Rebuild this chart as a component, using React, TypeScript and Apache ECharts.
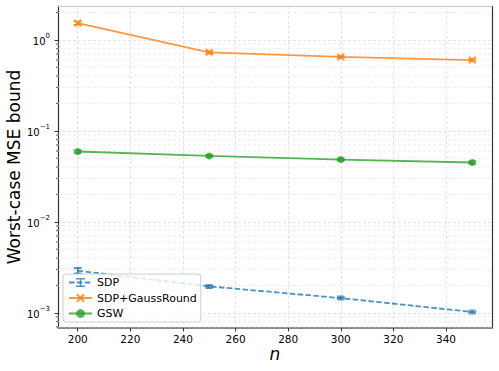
import React, { useEffect, useRef } from "react";
import * as echarts from "echarts";

const nValues = [200, 250, 300, 350];
const sdp = [0.0029, 0.00195, 0.00145, 0.00102];
const sdpErr = [0.00022, 0.00004, 0.00003, 0.00002];
const gauss = [1.53, 0.73, 0.65, 0.6];
const gaussErr = [0.06, 0.02, 0.015, 0.015];
const gsw = [0.0593, 0.053, 0.0484, 0.0449];
const gswErr = [0.002, 0.0015, 0.0015, 0.0015];
const xTicks = [200, 220, 240, 260, 280, 300, 320, 340];
const yTicks = [0.001, 0.01, 0.1, 1];
const yMinor = [
  0.0007, 0.0008, 0.0009,
  0.002, 0.003, 0.004, 0.005, 0.006, 0.007, 0.008, 0.009,
  0.02, 0.03, 0.04, 0.05, 0.06, 0.07, 0.08, 0.09,
  0.2, 0.3, 0.4, 0.5, 0.6, 0.7, 0.8, 0.9,
  2,
];

const FONT = "DejaVu Sans";
const BLUE = "rgba(31,119,180,0.8)";
const ORANGE = "rgba(255,127,14,0.8)";
const GREEN = "rgba(44,160,44,0.8)";

const X_SYMBOL =
  "path://M0,1.6L1.6,0L5,3.4L8.4,0L10,1.6L6.6,5L10,8.4L8.4,10L5,6.6L1.6,10L0,8.4L3.4,5Z";
const I_SYMBOL =
  "path://M0,0L10,0L10,1.6L5.8,1.6L5.8,8.4L10,8.4L10,10L0,10L0,8.4L4.2,8.4L4.2,1.6L0,1.6Z";

function errSeries(vals: number[], errs: number[], color: string) {
  return {
    type: "custom",
    silent: true,
    z: 3,
    data: nValues.map((n, i) => [n, vals[i], errs[i]]),
    encode: { x: 0, y: 1 },
    renderItem: (params: any, api: any) => {
      const x = api.value(0);
      const y = api.value(1);
      const e = api.value(2);
      const p1 = api.coord([x, y + e]);
      const p2 = api.coord([x, y - e]);
      const st = { stroke: color, lineWidth: 1.5 };
      return {
        type: "group",
        children: [
          { type: "line", shape: { x1: p1[0], y1: p1[1], x2: p2[0], y2: p2[1] }, style: st },
          { type: "line", shape: { x1: p1[0] - 4, y1: p1[1], x2: p1[0] + 4, y2: p1[1] }, style: st },
          { type: "line", shape: { x1: p2[0] - 4, y1: p2[1], x2: p2[0] + 4, y2: p2[1] }, style: st },
        ],
      };
    },
  };
}

export default function App() {
  const ref = useRef<HTMLDivElement>(null);
  useEffect(() => {
    if (!ref.current) return;
    const chart = echarts.init(ref.current, undefined, { renderer: "svg" });
    const option: any = {
      animation: false,
      backgroundColor: "#fff",
      textStyle: { fontFamily: FONT },
      grid: { left: 58, right: 7, top: 6, bottom: 43, containLabel: false, outerBoundsMode: "none" },
      legend: {
        left: 63,
        top: 274,
        orient: "vertical",
        selectedMode: false,
        data: ["SDP", "SDP+GaussRound", "GSW"],
        itemWidth: 23,
        itemHeight: 11,
        itemGap: 4.5,
        padding: [3, 4, 3, 5],
        backgroundColor: "rgba(255,255,255,0.8)",
        borderColor: "#cccccc",
        borderWidth: 1,
        borderRadius: 3,
        textStyle: { fontFamily: FONT, fontSize: 11, color: "#000" },
      },
      xAxis: [
        {
          type: "value",
          min: 192.5,
          max: 357.5,
          name: "n",
          nameLocation: "middle",
          nameGap: 17,
          nameMoveOverlap: false,
          nameTextStyle: { fontFamily: FONT, fontSize: 17, fontStyle: "italic", color: "#000" },
          axisLine: { show: true, onZero: false, lineStyle: { color: "#888", width: 2 } },
          axisTick: { show: true, customValues: xTicks, length: 3.5, lineStyle: { color: "#333", width: 1 } },
          axisLabel: { customValues: xTicks, fontFamily: FONT, fontSize: 10.5, color: "#000", margin: 5 },
          splitLine: { show: true, lineStyle: { color: "#dcdcdc", width: 0.8, type: [3, 2] } },
        },
        {
          type: "value",
          position: "top",
          min: 192.5,
          max: 357.5,
          axisLine: { show: true, onZero: false, lineStyle: { color: "#c8c8c8", width: 1 } },
          axisTick: { show: false },
          axisLabel: { show: false },
          splitLine: { show: false },
        },
      ],
      yAxis: [
        {
          type: "log",
          logBase: 10,
          min: 0.00068,
          max: 2.36,
          name: "Worst-case MSE bound",
          nameLocation: "middle",
          nameGap: 36,
          nameMoveOverlap: false,
          nameTextStyle: { fontFamily: FONT, fontSize: 17, color: "#000" },
          axisLine: { show: true, onZero: false, lineStyle: { color: "#333", width: 1.2 } },
          axisTick: { show: true, customValues: yTicks, length: 3.5, lineStyle: { color: "#333", width: 1 } },
          axisLabel: {
            customValues: yTicks,
            margin: 8,
            formatter: (v: number) => {
              const e = Math.round(Math.log10(v));
              const s = e < 0 ? "\u2212" + -e : String(e);
              return `{b|10}{s|${s}}`;
            },
            rich: {
              b: { fontFamily: FONT, fontSize: 10, color: "#000", lineHeight: 14, verticalAlign: "bottom" },
              s: { fontFamily: FONT, fontSize: 7, color: "#000", lineHeight: 9, verticalAlign: "top" },
            },
          },
          splitLine: { show: true, lineStyle: { color: "#dcdcdc", width: 0.8, type: [3, 2] } },
        },
        {
          type: "value",
          position: "right",
          min: 0,
          max: 1,
          axisLine: { show: true, onZero: false, lineStyle: { color: "#333", width: 1.2 } },
          axisTick: { show: false },
          axisLabel: { show: false },
          splitLine: { show: false },
        },
      ],
      series: [
        {
          type: "custom",
          silent: true,
          z: 1,
          data: yMinor.map((v) => [200, v]),
          encode: { x: 0, y: 1 },
          renderItem: (params: any, api: any) => {
            const cs = params.coordSys;
            const p = api.coord([api.value(0), api.value(1)]);
            return {
              type: "group",
              children: [
                {
                  type: "line",
                  shape: { x1: cs.x, y1: p[1], x2: cs.x + cs.width, y2: p[1] },
                  style: { stroke: "#e4e4e4", lineWidth: 0.7, lineDash: [3, 2] },
                },
                {
                  type: "line",
                  shape: { x1: cs.x - 2, y1: p[1], x2: cs.x, y2: p[1] },
                  style: { stroke: "#333", lineWidth: 0.8 },
                },
              ],
            };
          },
        },
        {
          name: "SDP",
          type: "line",
          data: nValues.map((n, i) => [n, sdp[i]]),
          symbol: I_SYMBOL,
          symbolSize: [7, 5],
          showAllSymbol: true,
          itemStyle: { color: BLUE },
          lineStyle: { color: BLUE, width: 1.8, type: [5.5, 2.4] },
          z: 2,
        },
        {
          name: "SDP+GaussRound",
          type: "line",
          data: nValues.map((n, i) => [n, gauss[i]]),
          symbol: X_SYMBOL,
          symbolSize: 8,
          itemStyle: { color: ORANGE },
          lineStyle: { color: ORANGE, width: 1.8 },
          z: 2,
        },
        {
          name: "GSW",
          type: "line",
          data: nValues.map((n, i) => [n, gsw[i]]),
          symbol: "circle",
          symbolSize: 7,
          itemStyle: { color: GREEN },
          lineStyle: { color: GREEN, width: 1.8 },
          z: 2,
        },
        errSeries(sdp, sdpErr, BLUE),
        errSeries(gauss, gaussErr, ORANGE),
        errSeries(gsw, gswErr, GREEN),
      ],
    };
    chart.setOption(option);
    return () => chart.dispose();
  }, []);
  return (
    <div
      ref={ref}
      style={{ position: "fixed", left: 0, top: 0, width: 499, height: 371, background: "#fff" }}
    />
  );
}
